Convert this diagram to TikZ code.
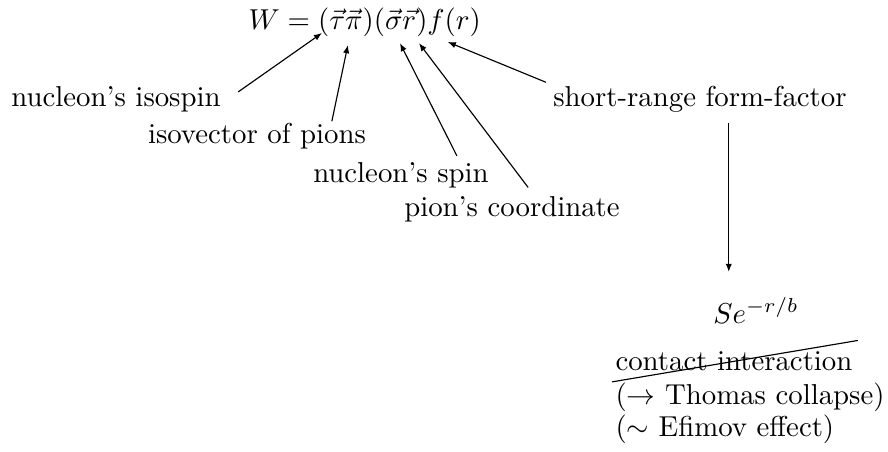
\documentclass[tikz,border=0pt]{standalone}
\usepackage{tikz}
\usetikzlibrary{arrows.meta, positioning}
\tikzset{
  lbl/.style={inner sep=0pt, anchor=base},
  formula/.style={inner sep=0pt, anchor=base west},
  arr/.style={-{Latex[length=2.8pt,width=2.2pt]}, line width=0.4pt},
}
\begin{document}
\begin{tikzpicture}
\useasboundingbox (0,0) rectangle (10.84,-5.506);
% the interaction term
\node[formula] (W) at (3.027,-0.354) {$W=(\vec\tau\vec\pi)(\vec\sigma\vec r)f(r)$};
\coordinate (tau) at ([xshift=25.7pt,yshift=-1.4pt]W.base west);
\coordinate (pi) at ([xshift=34.7pt,yshift=-5.6pt]W.base west);
\coordinate (sig) at ([xshift=52.8pt,yshift=-4.9pt]W.base west);
\coordinate (rv) at ([xshift=59.4pt,yshift=-4.9pt]W.base west);
\coordinate (fr) at ([xshift=69.4pt,yshift=-4.5pt]W.base west);
% labels
\node[lbl] (iso) at (1.416,-1.294) {nucleon's isospin};
\node[lbl] (isov) at (3.137,-1.746) {isovector of pions};
\node[lbl] (spin) at (4.895,-2.222) {nucleon's spin};
\node[lbl] (coord) at (6.250,-2.637) {pion's coordinate};
\node[lbl] (sf) at (8.545,-1.294) {short-range form-factor};
\node[lbl] (se) at (9.229,-3.943) {$Se^{-r/b}$};
\node[lbl, anchor=base west] (ci) at (7.507,-4.517) {contact interaction};
\node[lbl, anchor=base west] (tc) at (7.507,-4.932) {($\rightarrow$ Thomas collapse)};
\node[lbl, anchor=base west] (ef) at (7.507,-5.334) {($\sim$ Efimov effect)};
% connectors
\draw[arr] ([xshift=5.9pt,yshift=4.9pt]iso.base east) -- (tau);
\draw[arr] ([xshift=26pt,yshift=0.3pt]isov.north) -- (pi);
\draw[arr] ([xshift=19.4pt,yshift=2pt]spin.north) -- (sig);
\draw[arr] ([xshift=5.6pt,yshift=2.8pt]coord.north) -- (rv);
\draw[arr] ([xshift=-2.4pt,yshift=1pt]sf.north west) -- (fr);
\coordinate (dn) at ([xshift=10pt,yshift=-3.6pt]sf.south);
\draw[arr] (dn) -- ([yshift=8.7pt]dn |- se.north);
\draw[line width=0.4pt] ([xshift=-1pt,yshift=-3.8pt]ci.south west) -- ([xshift=1.7pt,yshift=3.5pt]ci.north east);
\end{tikzpicture}
\end{document}
